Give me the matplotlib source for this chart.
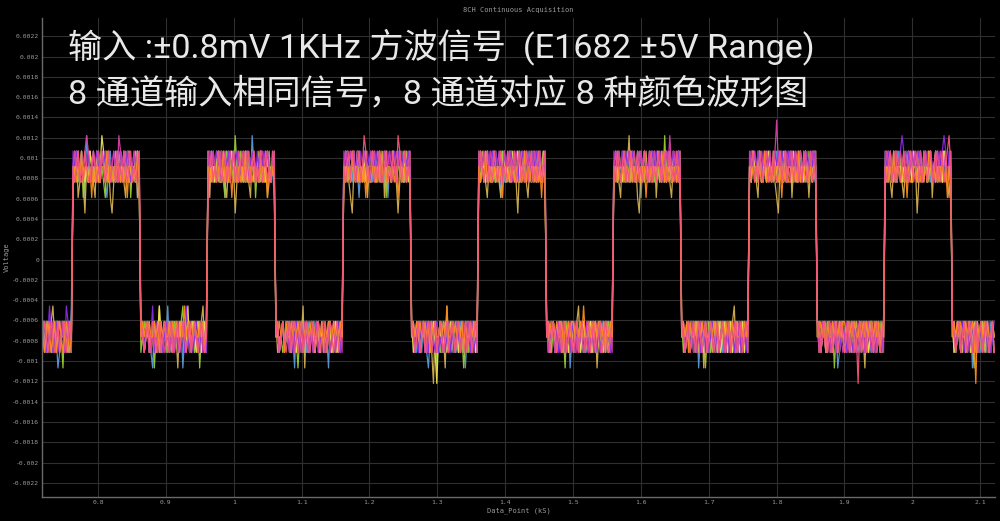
import numpy as np
import matplotlib
matplotlib.use("Agg")
import matplotlib.pyplot as plt

# E1682, ±5 V range, 16-bit ADC -> one code step in volts
LSB_V = 10.0 / 65536

# square-wave segment boundaries (kS): low, high, low, ...
segment_edges_ks = [0.7175, 0.762, 0.862, 0.961, 1.061, 1.161, 1.261, 1.360,
                    1.460, 1.559, 1.659, 1.759, 1.859, 1.959, 2.058, 2.122]
first_segment_sign = -1

# per channel: ADC code magnitudes per segment (space separated)
ch1_codes = (
    "546554645765454563 "
    "6576556486567566576546756657565765566745 "
    "5465456745546545365454654756455465546454 "
    "5667567565476566575665675586566756576564 "
    "4565465546574565456455645465465745654564 "
    "6756657564665756756676565746566576655675 "
    "5456546456754564565465456456546575465456 "
    "6566756576566475665765665766576565756657 "
    "4654565456465475465546456546546564565465 "
    "5676566576756567465665766576565676566576 "
    "5465465564756455465465546456455645654654 "
    "6576567566576566756756576656576567566756 "
    "4565465456547654565456456545654654564565 "
    "6657656576566756576567566575667656575666 "
    "54654564565475645654656456"
)
ch2_codes = (
    "456545654465745645 "
    "5765674565765657665475665756567657466575 "
    "6545465475645546546545654365465465475464 "
    "6756567656475765865756576567465765667566 "
    "5465654565465754654564565465456546546545 "
    "5676576657566756675657657466576567576566 "
    "4565465456546547564654654565465754654565 "
    "7565675665766576567566576567566756575676 "
    "5456465546574565465645654565465456546455 "
    "6657665756567566757656675665758567566576 "
    "4654564654565475465456465546546564565454 "
    "5766576567566576567657566765657566576567 "
    "5465546564754654564565465465645465465465 "
    "6576657566576567566576657567565766576565 "
    "46545654654657456545646545"
)
ch3_codes = (
    "554654356465545646 "
    "6574565365765476566756435665765475665745 "
    "5465456546536545465465745465546545654365 "
    "6475665756546576356657565476567565745665 "
    "4655465456465465374654565465465546545654 "
    "5765436575665746567566574656576535665767 "
    "5465465454656846546573654654654656546546 "
    "6576546657565467565766536576546567566575 "
    "4565465546545654654365465546547546545654 "
    "5665476568575643665756657465665765466576 "
    "5465454654654756546546545654654365465456 "
    "6576547656657565436576567466575657646575 "
    "4654565465456454654656545465746545654565 "
    "5765465766546576566356576657465766576546 "
    "54654565465465456546545645"
)
ch4_codes = (
    "465456546545465465 "
    "5667576565766575687567566576756657566576 "
    "4565465546535654654654564565365456456546 "
    "7566576576567576657665756675665756576567 "
    "5465465456546545654654564565465456546545 "
    "6576567576657566576567566756576567657656 "
    "4654565465465468546546545654654654565465 "
    "5766576657565767566576576565766576567566 "
    "5465456546545654654565465546546545654654 "
    "6756657565766576567657566576567566576657 "
    "4565465546545654654565465456546545654654 "
    "6576657566576567576657566576567657656576 "
    "5465465456546545654654565465456546545654 "
    "7566576567566576576657566576567566576567 "
    "46545654654654565465456546"
)
ch5_codes = (
    "546535654654563465 "
    "7676576767567676576767567675767676567676 "
    "5464565364564654564654656463564654564656 "
    "6767676576767567676576767676576767676576 "
    "4565464564654564654564654656465465465464 "
    "7676767576767676576767657676767576767676 "
    "5464654564654564656465464654564654564654 "
    "6767657676767657676767657676767576767657 "
    "4654564654656464564654564654656465464564 "
    "7676576767676576767657676767576767676576 "
    "5464564656465464654564654564654656465464 "
    "6767676576767657676767576767676576767676 "
    "4565464654564654564656465464654564654564 "
    "7676576767876576767676576767657676787576 "
    "54645646546546456465464654"
)
ch6_codes = (
    "465465456545465456 "
    "6767566787657667676567667658767567667657 "
    "5465546545654565465465465546546545654654 "
    "7667656767566767657667675667656776676567 "
    "4565465465465546545654654654565465465546 "
    "6766767567667656767667567667656767667567 "
    "5465465546546546545654654565465465456546 "
    "7667656767667567667656767667567667657667 "
    "4654565465465456546545654654654565465546 "
    "6767667567667656767667567667656768667567 "
    "5465465456546546545654654654565465456546 "
    "7667656767667567967656767667567667656767 "
    "4654565465465456546545654654654565465546 "
    "6767667567667656767667567667656767667567 "
    "54654654565465465465456546"
)
ch7_codes = (
    "565456546545654565 "
    "5656575665646565566575656566565646656575 "
    "5454545545464545545454554535454545545464 "
    "6565656557565646656565755656565665646565 "
    "4545464554545454454545455454645445454545 "
    "5656575665656465566565756566565646656565 "
    "5454545545464545545453554545454645545454 "
    "6565756556565646656565655657565665656465 "
    "4545454554645454454545355454545445464545 "
    "5656565665756565566465656566575656656565 "
    "5454645545454545545454554545464545545454 "
    "6565656557565656656465655656575665656565 "
    "4545464554545454454545455454545445454645 "
    "5656575665656465566565656576565656656465 "
    "54545455454545845454545545"
)
ch8_codes = (
    "545654565465546545 "
    "6567565765567656576567566575657656756567 "
    "4565465456546545654655465456546545654565 "
    "5675657656756567565676567567565756756576 "
    "5465456546545654654565465465546545654654 "
    "6567576567568765675657656756576587567565 "
    "4565465465456546545654654565465546546545 "
    "5765675657656756576567567565756756576567 "
    "5465456546546545654654565465465546545654 "
    "6576567565765675657656756576567567565756 "
    "4565465465456546545654654565465546546545 "
    "5675657656756576567567565756756576567565 "
    "5465456546546545654654658465465546545654 "
    "6567565765675657656756576567567565756786 "
    "45654654654565465465456546"
)

channel_colors = ["#5b9bd5", "#9acd32", "#d4b050", "#f0e050",
                  "#8a2be2", "#d63fa8", "#ff8c1a", "#f5557a"]

x_ticks = [0.8, 0.9, 1.0, 1.1, 1.2, 1.3, 1.4, 1.5, 1.6, 1.7, 1.8, 1.9, 2.0, 2.1]
x_tick_labels = ["0.8", "0.9", "1", "1.1", "1.2", "1.3", "1.4", "1.5", "1.6",
                 "1.7", "1.8", "1.9", "2", "2.1"]
y_ticks = [-0.0022, -0.002, -0.0018, -0.0016, -0.0014, -0.0012, -0.001, -0.0008,
           -0.0006, -0.0004, -0.0002, 0.0, 0.0002, 0.0004, 0.0006, 0.0008, 0.001,
           0.0012, 0.0014, 0.0016, 0.0018, 0.002, 0.0022]
y_tick_labels = ["-0.0022", "-0.002", "-0.0018", "-0.0016", "-0.0014", "-0.0012",
                 "-0.001", "-0.0008", "-0.0006", "-0.0004", "-0.0002", "0",
                 "0.0002", "0.0004", "0.0006", "0.0008", "0.001", "0.0012",
                 "0.0014", "0.0016", "0.0018", "0.002", "0.0022"]

title_text = "8CH Continuous Acquisition"
x_label = "Data_Point (kS)"
y_label = "Voltage"
overlay_line1 = "输入 :±0.8mV 1KHz 方波信号  (E1682 ±5V Range)"
overlay_line2 = "8 通道输入相同信号，8 通道对应 8 种颜色波形图"


def build_trace(codes):
    xs, ys = [], []
    sign = first_segment_sign
    for i, seg in enumerate(codes.split()):
        if i + 1 >= len(segment_edges_ks):
            break
        a, b = segment_edges_ks[i], segment_edges_ks[i + 1]
        n = len(seg)
        step = (b - a) / n
        xs.extend(a + (np.arange(n) + 0.5) * step)
        ys.extend(sign * np.array([int(c) for c in seg]) * LSB_V)
        sign = -sign
    return np.array(xs), np.array(ys)


fig = plt.figure(figsize=(10, 5.21), dpi=100, facecolor="black")
ax = fig.add_axes([0.042, 0.046, 0.953, 0.9195])
ax.set_facecolor("black")

all_codes = [ch1_codes, ch2_codes, ch3_codes, ch4_codes,
             ch5_codes, ch6_codes, ch7_codes, ch8_codes]
for codes, col in zip(all_codes, channel_colors):
    x, y = build_trace(codes)
    ax.plot(x, y, color=col, lw=0.9, alpha=0.95)

ax.set_xlim(0.7175, 2.122)
ax.set_ylim(-0.00234, 0.00238)
ax.set_xticks(x_ticks)
ax.set_xticklabels(x_tick_labels)
ax.set_yticks(y_ticks)
ax.set_yticklabels(y_tick_labels)
ax.tick_params(colors="#9a9a9a", labelsize=4.6, length=0, pad=2)
for lab in ax.get_xticklabels() + ax.get_yticklabels():
    lab.set_family("DejaVu Sans Mono")
ax.grid(True, color="#2f2f2f", lw=0.8)
ax.set_axisbelow(True)
for side in ["top", "right"]:
    ax.spines[side].set_visible(False)
for side in ["left", "bottom"]:
    ax.spines[side].set_color("#6a6a6a")
    ax.spines[side].set_linewidth(1.0)

ax.set_title(title_text, fontsize=5, color="#9a9a9a", family="DejaVu Sans Mono", pad=4)
ax.set_xlabel(x_label, fontsize=5, color="#9a9a9a", family="DejaVu Sans Mono", labelpad=2)
ax.set_ylabel(y_label, fontsize=5, color="#9a9a9a", family="DejaVu Sans Mono", labelpad=2)

overlay_fonts = ["Roboto", "Noto Sans CJK SC", "DejaVu Sans"]
fig.text(0.068, 1 - 47 / 521, overlay_line1, fontsize=24.6, color="#e8e8e8",
         family=overlay_fonts, weight="normal", ha="left", va="center")
fig.text(0.068, 1 - 94 / 521, overlay_line2, fontsize=24.6, color="#e8e8e8",
         family=overlay_fonts, weight="normal", ha="left", va="center")

fig.savefig("out.png", dpi=100, facecolor="black")
